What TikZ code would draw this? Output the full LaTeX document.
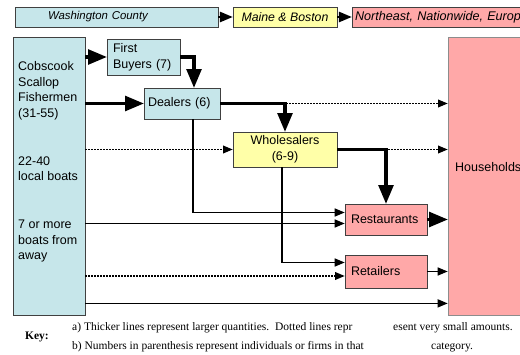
\documentclass[tikz,border=0pt]{standalone}
\usepackage{fontspec}
\setmainfont{Liberation Sans}
\newfontfamily\keyfont{Liberation Serif}
\usetikzlibrary{arrows,shapes,calc}

\definecolor{fishblue}{RGB}{198,230,234}
\definecolor{midyellow}{RGB}{255,255,168}
\definecolor{endpink}{RGB}{255,168,168}

\begin{document}
\begin{tikzpicture}
  [x=1pt,y=-1pt,
   every node/.style={inner sep=0pt,font=\fontsize{12.5}{15.8}\selectfont},
   box/.style={rectangle,draw=black!75,line width=0.8pt},
   topbox/.style={box,minimum height=20pt,font=\fontsize{12.3}{14}\selectfont\itshape},
   leftbox/.style={box,align=left,inner xsep=5pt,inner ysep=0pt},
   thickflow/.style={line width=3.4pt,arrows={-{triangle 45}}},
   thinflow/.style={line width=1.3pt,arrows={-{triangle 45}}},
   dotflow/.style={line width=1.2pt,dash pattern=on 2pt off 1pt,arrows={-{triangle 45}}},
   topflow/.style={line width=2pt,arrows={-{triangle 45}}},
   keytext/.style={font=\keyfont\fontsize{11.5}{19}\selectfont}]
  \useasboundingbox (0,0) rectangle (520,355);

  % top bar
  \node[topbox,fill=fishblue,minimum width=203pt,text width=137pt,inner xsep=33pt,align=left,
        font=\fontsize{11.4}{14}\selectfont\itshape] (wash) at (116.5,17) {Washington County};
  \node[topbox,fill=midyellow,minimum width=104pt] (maine) at (285,17) {Maine \& Boston};
  \node[topbox,fill=endpink,minimum width=208pt,text width=202pt,inner xsep=3pt,align=left,
        font=\fontsize{12.6}{14}\selectfont\itshape] (ne) at (456,17) {Northeast, Nationwide, Europe};
  \draw[topflow] (wash.east) to (maine.west);
  \draw[topflow] (maine.east) to (ne.west);

  % sources and sinks
  \node[box,fill=fishblue,minimum width=72pt,minimum height=278pt] (fish) at (49,176) {};
  \node[align=left,anchor=north west] (fishtxt) at (18,61) {Cobscook\\Scallop\\Fishermen\\(31-55)\\[31.6pt]22-40\\local boats\\[31.6pt]7 or more\\boats from\\away};
  \node[box,draw=black!45,fill=endpink,minimum width=122pt,minimum height=278pt] (house) at (509,176) {};
  \node[anchor=west] (housetxt) at (455,167) {Households};

  % middlemen and outlets
  \node[leftbox,fill=fishblue,text width=61pt,inner xsep=6pt,minimum height=36pt] (buyers) at (143.5,57) {First\\Buyers (7)};
  \node[leftbox,fill=fishblue,text width=68pt,inner xsep=4pt,minimum height=31pt] (dealers) at (182,103.5) {Dealers (6)};
  \node[box,fill=midyellow,align=center,minimum width=104pt,minimum height=35pt] (whol) at (285,149.5) {Wholesalers\\(6-9)};
  \node[leftbox,fill=endpink,text width=70pt,inner xsep=6pt,minimum height=31pt] (rest) at (386,219.5) {Restaurants};
  \node[leftbox,fill=endpink,text width=70pt,inner xsep=6pt,minimum height=33pt] (ret) at (386,271.5) {Retailers};

  % flows
  \draw[dotflow] (dealers.east) -- (dealers.east -| house.west);
  \draw[dotflow] (whol.east) -- (whol.east -| house.west);
  \draw[thickflow] (fish.east |- buyers.west) -- (buyers.west);
  \draw[thickflow] (fish.east |- dealers.west) -- (dealers.west);
  \draw[thickflow] (buyers.east) -| ($(dealers.north)+(12,0)$);
  \draw[thickflow] (dealers.east) -| (whol.north);
  \draw[thickflow] (whol.east) -| (rest.north);
  \draw[dotflow] (fish.east |- whol.west) -- (whol.west);
  \draw[thinflow] ($(dealers.south)+(11,0)$) |- ($(rest.west)+(0,-7)$);
  \draw[thinflow] ($(fish.east |- rest.west)+(0,4)$) -- ($(rest.west)+(0,4)$);
  \draw[thinflow] ($(whol.south)+(-3,0)$) |- ($(ret.west)+(0,-9)$);
  \draw[dotflow] ($(fish.east |- ret.west)+(0,4.5)$) -- ($(ret.west)+(0,4.5)$);
  \draw[thinflow] ($(fish.south east)+(0,-12)$) -- ($(house.south west)+(0,-12)$);
  \draw[thickflow] (rest.east) -- (rest.east -| house.west);
  \draw[thinflow] (ret.east) -- (ret.east -| house.west);

  % key
  \node[keytext,font=\keyfont\bfseries\fontsize{11.5}{19}\selectfont] (key) at (37,337) {Key:};
  \node[keytext,anchor=base west] (keya1) at (72,331) {a) Thicker lines represent larger quantities.\ \ Dotted lines repr};
  \node[keytext,anchor=base west] (keya2) at (393,331) {esent very small amounts.};
  \node[keytext,anchor=base west] (keyb1) at (72,350) {b) Numbers in parenthesis represent individuals or firms in that};
  \node[keytext,anchor=base west] (keyb2) at (431,350) {category.};
\end{tikzpicture}
\end{document}
